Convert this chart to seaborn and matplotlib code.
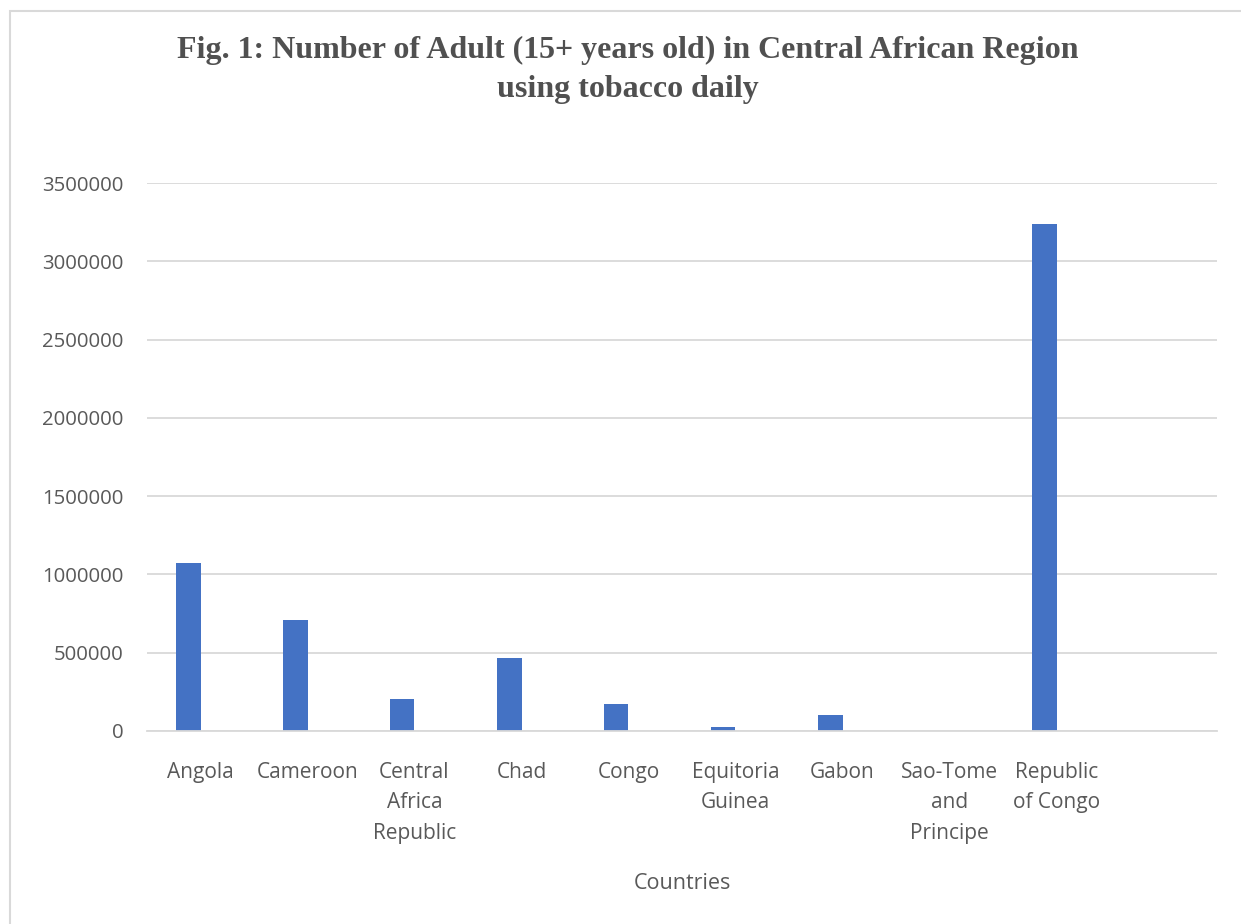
import matplotlib
matplotlib.use("Agg")
import matplotlib.pyplot as plt
import seaborn as sns
import pandas as pd
from matplotlib.patches import Rectangle

countries = ["Angola", "Cameroon", "Central\nAfrica\nRepublic", "Chad", "Congo",
             "Equitoria\nGuinea", "Gabon", "Sao-Tome\nand\nPrincipe", "Republic\nof Congo"]
values = [1075000, 707000, 202000, 468000, 172000, 25000, 104000, 0, 3238000]
second_values = [0, 0, 0, 0, 0, 0, 0, 0, 0]
extra_slot = [""]
series_names = ["Series1", "Series2"]
yticks = [0, 500000, 1000000, 1500000, 2000000, 2500000, 3000000, 3500000]

df = pd.DataFrame({
    "Country": countries + countries,
    "Value": values + second_values,
    "Series": [series_names[0]] * len(countries) + [series_names[1]] * len(countries),
})

sns.set_theme(style="white")
plt.rcParams["font.family"] = ["Open Sans", "DejaVu Sans"]
text_color = "#595959"
grid_color = "#d9d9d9"

fig = plt.figure(figsize=(12.41, 9.24), dpi=100)
fig.patch.set_facecolor("white")
ax = fig.add_axes([147 / 1241, 1 - 731 / 924, (1217 - 147) / 1241, (731 - 183) / 924])

sns.barplot(data=df, x="Country", y="Value", hue="Series",
            order=countries + extra_slot, hue_order=series_names,
            palette=["#4472C4", "#ED7D31"], width=0.45, linewidth=0,
            saturation=1, legend=False, ax=ax)

ax.set_ylim(0, 3500000)
ax.set_xlim(-0.5, len(countries + extra_slot) - 0.5)
ax.set_yticks(yticks)
ax.set_yticklabels([str(v) for v in yticks])
ax.yaxis.grid(True, color=grid_color, linewidth=1.3)
ax.set_axisbelow(True)
for s in ["top", "right", "left"]:
    ax.spines[s].set_visible(False)
ax.spines["bottom"].set_color(grid_color)
ax.spines["bottom"].set_linewidth(1.3)
ax.tick_params(axis="y", length=0, pad=17, labelsize=14.7, labelcolor=text_color)
ax.tick_params(axis="x", length=0, pad=22, labelsize=15, labelcolor=text_color)
for lbl in ax.get_xticklabels():
    lbl.set_linespacing(1.6)
    lbl.set_horizontalalignment("center")
    lbl.set_verticalalignment("top")
ax.set_ylabel("")
ax.set_xlabel("Countries", fontsize=15.5, color=text_color, labelpad=21)

fig.text(628 / 1241, 1 - 70 / 924,
         "Fig. 1: Number of Adult (15+ years old) in Central African Region\nusing tobacco daily",
         ha="center", va="center", fontsize=23, fontweight="bold",
         family=["Liberation Serif", "DejaVu Serif"], color="#505050", linespacing=1.45)

fig.patches.append(Rectangle((9.5 / 1241, -0.1), 1.2, 1 - 11.5 / 924 + 0.1,
                             transform=fig.transFigure, fill=False,
                             edgecolor="#d9d9d9", linewidth=1.5))

fig.savefig("out.png", dpi=100)
